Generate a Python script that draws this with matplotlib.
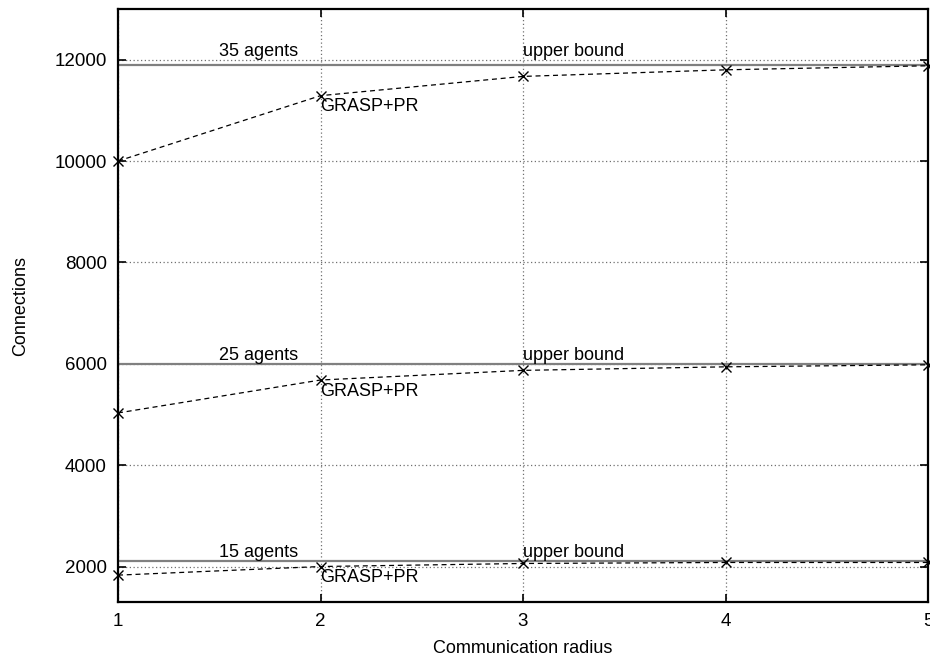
import matplotlib
matplotlib.use("Agg")
import matplotlib.pyplot as plt

plt.rcParams['font.family'] = ['Liberation Sans', 'DejaVu Sans']

radius = [1, 2, 3, 4, 5]
agents_labels = ["35 agents", "25 agents", "15 agents"]
upper_bounds = [11900, 6000, 2100]
grasp_35 = [10000, 11290, 11670, 11800, 11880]
grasp_25 = [5030, 5680, 5870, 5940, 5980]
grasp_15 = [1830, 2000, 2060, 2080, 2080]
grasp_series = [grasp_35, grasp_25, grasp_15]
yticks = [2000, 4000, 6000, 8000, 10000, 12000]
xticks = [1, 2, 3, 4, 5]

fig = plt.figure(figsize=(9.3, 6.6), dpi=100)
ax = fig.add_axes([118/930, 1-602/660, (928-118)/930, (602-9)/660])

fs = 13
label_off = [180, 80, 80]
for ub, lab, series, off in zip(upper_bounds, agents_labels, grasp_series, label_off):
    ax.plot([radius[0], radius[-1]], [ub, ub], color='#808080', lw=1.6, zorder=2)
    ax.plot(radius, series, color='black', ls=(0, (4, 3)), lw=0.9,
            marker='x', ms=6.5, mew=1.0, zorder=3, clip_on=False)
    ax.text(1.5, ub + off, lab, fontsize=fs, ha='left', va='baseline')
    ax.text(3.0, ub + off, "upper bound", fontsize=fs, ha='left', va='baseline')
    ax.text(2.0, series[1] - 50, "GRASP+PR", fontsize=fs, ha='left', va='top')

ax.set_xlim(1, 5)
ax.set_ylim(1300, 13000)
ax.set_xticks(xticks)
ax.set_yticks(yticks)
ax.tick_params(direction='in', length=6, width=1.2, labelsize=13.5, top=True, right=True, pad=8)
ax.grid(True, color='#707070', ls=(0, (1, 2)), lw=0.9)
for s in ax.spines.values():
    s.set_linewidth(1.6)
ax.set_xlabel("Communication radius", fontsize=fs, labelpad=7)
ax.set_ylabel("Connections", fontsize=fs, labelpad=18)

fig.savefig("out.png", dpi=100)
